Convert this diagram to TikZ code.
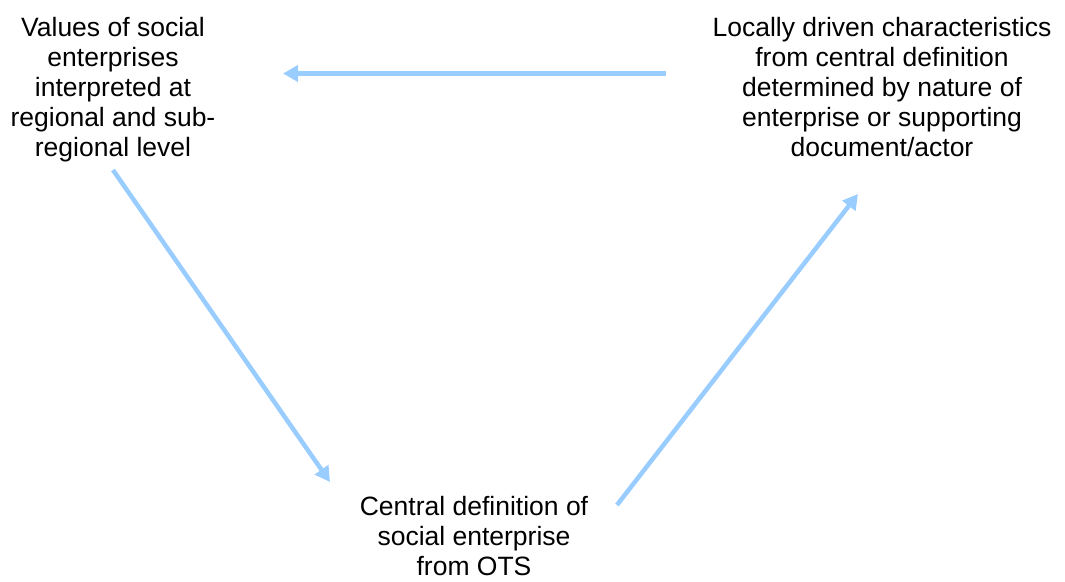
\documentclass[tikz,border=0pt]{standalone}
\usepackage{fontspec}
\setmainfont{Liberation Sans}
\usetikzlibrary{arrows.meta}
\definecolor{arrowblue}{HTML}{99CCFF}
\tikzset{
  label text/.style={align=center, inner sep=0pt, anchor=north,
    font=\fontsize{26.5}{30}\selectfont, text=black},
  flow/.style={draw=arrowblue, line width=4.5pt,
    -{Triangle[length=15pt,width=16pt]}}
}
\begin{document}
\begin{tikzpicture}[x=1pt,y=-1pt]
\useasboundingbox (0,0) rectangle (1065,581);
\node[label text] (values) at (113,17) {Values of social\\enterprises\\interpreted at\\regional and sub-\\regional level};
\node[label text] (local) at (882,17) {Locally driven characteristics\\from central definition\\determined by nature of\\enterprise or supporting\\document/actor};
\node[label text] (central) at (474,496) {Central definition of\\social enterprise\\from OTS};
\coordinate (topstart) at (666,73.5);
\coordinate (topend) at (283,73.5);
\coordinate (leftstart) at (113,170);
\coordinate (leftend) at (330,482);
\coordinate (rightstart) at (617,505);
\coordinate (rightend) at (858,194);
\draw[flow] (topstart) -- (topend);
\draw[flow] (leftstart) -- (leftend);
\draw[flow] (rightstart) -- (rightend);
\end{tikzpicture}
\end{document}
